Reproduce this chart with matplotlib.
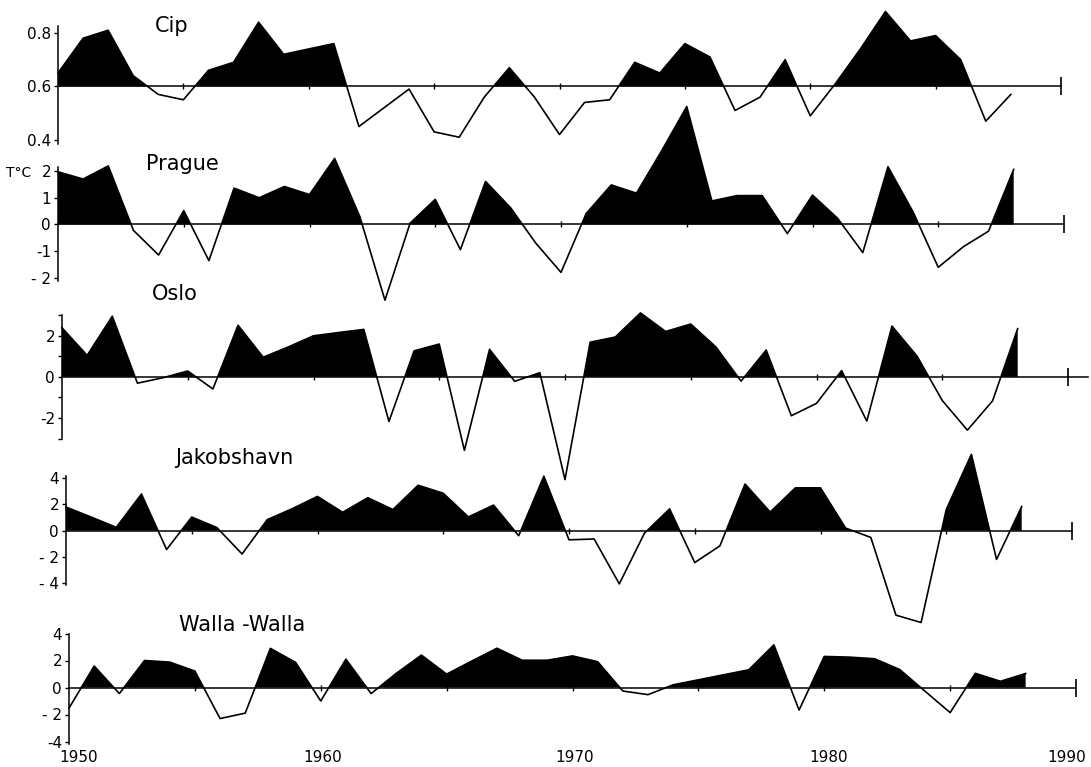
import numpy as np
import matplotlib.pyplot as plt
from matplotlib.transforms import ScaledTranslation

years = np.arange(1950, 1989)
stations = ['Cip', 'Prague', 'Oslo', 'Jakobshavn', 'Walla -Walla']

cip = [0.65, 0.78, 0.81, 0.64, 0.57, 0.55, 0.66, 0.69, 0.84, 0.72,
       0.74, 0.76, 0.45, 0.52, 0.59, 0.43, 0.41, 0.56, 0.67, 0.56,
       0.42, 0.54, 0.55, 0.69, 0.65, 0.76, 0.71, 0.51, 0.56, 0.70,
       0.49, 0.61, 0.74, 0.88, 0.77, 0.79, 0.70, 0.47, 0.57]
prague = [1.97, 1.70, 2.19, -0.22, -1.14, 0.52, -1.35, 1.36, 1.00, 1.42,
          1.12, 2.47, 0.30, -2.83, 0.05, 0.94, -0.94, 1.61, 0.62, -0.70,
          -1.79, 0.41, 1.48, 1.17, 2.75, 4.41, 0.88, 1.08, 1.08, -0.34,
          1.10, 0.23, -1.05, 2.16, 0.47, -1.60, -0.83, -0.25, 2.06]
oslo = [2.38, 1.04, 2.94, -0.31, -0.05, 0.28, -0.59, 2.50, 0.95, 1.45,
        1.99, 2.15, 2.30, -2.17, 1.26, 1.59, -3.57, 1.33, -0.22, 0.20,
        -4.99, 1.68, 1.93, 3.10, 2.20, 2.56, 1.45, -0.21, 1.30, -1.89,
        -1.29, 0.30, -2.15, 2.46, 1.00, -1.15, -2.59, -1.17, 2.34]
jakobshavn = [1.79, 1.03, 0.25, 2.78, -1.44, 1.03, 0.23, -1.78, 0.83, 1.67,
              2.60, 1.39, 2.50, 1.60, 3.45, 2.84, 1.04, 1.94, -0.39, 4.14,
              -0.70, -0.64, -4.05, -0.20, 1.65, -2.43, -1.16, 3.54, 1.41, 3.25,
              3.25, 0.19, -0.52, -6.43, -6.99, 1.60, 5.80, -2.19, 1.83]
walla_walla = [-1.53, 1.59, -0.45, 2.00, 1.88, 1.22, -2.30, -1.90, 2.90, 1.86,
               -1.00, 2.10, -0.45, 1.05, 2.40, 0.99, 1.96, 2.91, 2.02, 2.02,
               2.34, 1.91, -0.26, -0.53, 0.20, 0.57, 0.94, 1.31, 3.16, -1.67,
               2.30, 2.25, 2.13, 1.33, -0.27, -1.86, 1.05, 0.46, 1.04]

year_ticks = [1950, 1960, 1970, 1980, 1990]
year_labels = ['1950', '1960', '1970', '1980', '1990']

cip_ticks, cip_labels = [0.4, 0.6, 0.8], ['0.4', '0.6', '0.8']
prague_ticks, prague_labels = [-2, -1, 0, 1, 2], ['- 2', '-1', '0', '1', '2']
oslo_ticks, oslo_labels = [-2, 0, 2], ['-2', '0', '2']
jak_ticks, jak_labels = [-4, -2, 0, 2, 4], ['- 4', '- 2', '0', '2', '4']
walla_ticks, walla_labels = [-4, -2, 0, 2, 4], ['-4', '- 2', '0', '2', '4']

series = [cip, prague, oslo, jakobshavn, walla_walla]
bases = [0.6, 0, 0, 0, 0]
yticks = [cip_ticks, prague_ticks, oslo_ticks, jak_ticks, walla_ticks]
ylabels = [cip_labels, prague_labels, oslo_labels, jak_labels, walla_labels]

W, H = 1091, 767
fig = plt.figure(figsize=(W / 100, H / 100), dpi=100)

# pixel layout: x of 1950, x of 1990, y of baseline, px per unit, ylim, left axis extent,
# minor ticks, end of baseline, title centre
layout = [
    (58, 1061, 86.4, 267.5, (0.3, 0.92), (0.385, 0.825), [], 1990, (172, 26)),
    (58, 1064, 224.5, 26.75, (-3.5, 4.8), (-2.1, 2.16), [], 1990, (182, 164)),
    (62, 1068, 376.8, 20.6, (-5.5, 3.5), (-3.0, 3.0), [-3, -1, 1, 3], 1990.8, (175, 294)),
    (66, 1072, 530.6, 13.15, (-7.5, 6.0), (-4.1, 4.15), [], 1990, (234, 458)),
    (69, 1076, 687.5, 13.5, (-5.5, 4.5), (-4.2, 4.0), [], 1990, (242, 625)),
]

axes = []
for i, (x0, x1, yb, ppu, ylim, spine, minor, bend, tpos) in enumerate(layout):
    base = bases[i]
    top_px = yb - (ylim[1] - base) * ppu
    bot_px = yb + (base - ylim[0]) * ppu
    ax = fig.add_axes([x0 / W, 1 - bot_px / H, (x1 - x0) / W, (bot_px - top_px) / H])
    ax.patch.set_visible(False)
    ax.set_xlim(1950, 1990)
    ax.set_ylim(*ylim)

    vals = np.array(series[i])
    ax.fill_between(years, vals, base, where=vals >= base, interpolate=True,
                    color='black', lw=0)
    ax.plot(years, vals, color='black', lw=1.2, clip_on=False)

    for s in ['top', 'right']:
        ax.spines[s].set_visible(False)
    ax.spines['left'].set_bounds(*spine)
    ax.spines['bottom'].set_position(('data', base))
    ax.spines['bottom'].set_bounds(1950, bend)
    ax.spines['left'].set_linewidth(1.1)
    ax.spines['bottom'].set_linewidth(1.1)

    ax.set_yticks(yticks[i], ylabels[i], fontsize=11)
    ax.set_yticks(minor, minor=True)
    ax.tick_params(axis='y', which='both', length=3, width=1, pad=2, direction='out')
    ax.set_xticks(range(1955, 1990, 5))
    ax.tick_params(axis='x', length=5, width=1, direction='inout', labelbottom=False)
    ax.plot([1990], [base], marker='|', ms=13, mew=1.2, color='black', clip_on=False)

    fig.text(tpos[0] / W, 1 - tpos[1] / H, stations[i], fontsize=15,
             ha='center', va='center')
    axes.append(ax)

fig.text(6 / W, 1 - 173 / H, 'T°C', fontsize=10, ha='left', va='center')

# year labels sit a little off the ticks in the original drawing
label_shift_px = [10, 2, 2, 4, -9]
bottom = axes[-1]
for yr, lab, dx in zip(year_ticks, year_labels, label_shift_px):
    off = ScaledTranslation(dx / 100, 0, fig.dpi_scale_trans)
    bottom.text(yr, -5.15, lab, fontsize=11, ha='center', va='center',
                transform=bottom.transData + off)

fig.savefig('out.png', dpi=100)
